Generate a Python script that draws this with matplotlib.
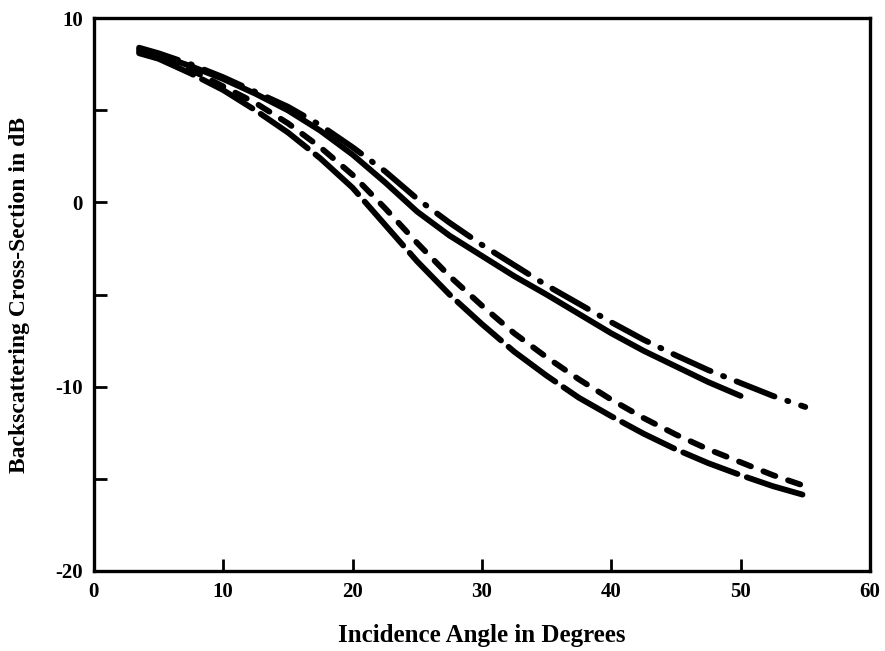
import matplotlib.pyplot as plt

plt.rcParams['font.family'] = 'Liberation Serif'
plt.rcParams['font.weight'] = 'bold'
plt.rcParams['axes.unicode_minus'] = False

# incidence angles (degrees)
angle = [3.5, 5, 7.5, 10, 12.5, 15, 17.5, 20, 22.5, 25, 27.5, 30,
         32.5, 35, 37.5, 40, 42.5, 45, 47.5, 50, 52.5, 55]

# backscattering cross-section (dB)
solid = [8.3, 8.0, 7.4, 6.7, 5.9, 5.0, 3.9, 2.6, 1.1, -0.5, -1.8, -2.9,
         -4.0, -5.0, -6.05, -7.1, -8.05, -8.9, -9.75, -10.5]
dash_dot = [8.4, 8.1, 7.5, 6.8, 6.0, 5.2, 4.2, 3.0, 1.7, 0.2, -1.1, -2.3,
            -3.4, -4.5, -5.5, -6.5, -7.45, -8.3, -9.1, -9.8, -10.5, -11.1]
dashed = [8.2, 7.9, 7.2, 6.3, 5.4, 4.3, 3.0, 1.5, -0.3, -2.2, -4.0, -5.6,
          -7.1, -8.4, -9.6, -10.7, -11.7, -12.6, -13.4, -14.1, -14.8, -15.4]
long_dash = [8.1, 7.8, 7.0, 6.1, 5.0, 3.8, 2.4, 0.8, -1.2, -3.2, -5.0, -6.6,
             -8.1, -9.4, -10.6, -11.6, -12.55, -13.4, -14.15, -14.8, -15.4, -15.9]

fig = plt.figure(figsize=(8.85, 6.51), dpi=100)
ax = fig.add_axes([0.106, 0.123, 0.877, 0.849])

lw = 4.2
ax.plot(angle[:len(solid)], solid, color='black', lw=lw, solid_capstyle='round')
ax.plot(angle, dash_dot, color='black', lw=lw, dashes=(7, 2.3, 0.2, 2.3), dash_capstyle='round')
ax.plot(angle, dashed, color='black', lw=lw, dashes=(2.2, 2.3), dash_capstyle='round')
ax.plot(angle, long_dash, color='black', lw=lw, dashes=(10, 1.7), dash_capstyle='round')

ax.set_xlim(0, 60)
ax.set_ylim(-20, 10)
ax.set_xticks(range(0, 61, 10))
ax.set_yticks([-20, -15, -10, -5, 0, 5, 10])
ax.set_yticklabels(['-20', '', '-10', '', '0', '', '10'])

ax.tick_params(direction='in', length=9, width=2, labelsize=15)
ax.tick_params(axis='x', pad=8)
ax.tick_params(axis='y', pad=8)
for s in ax.spines.values():
    s.set_linewidth(2.4)

ax.set_xlabel('Incidence Angle in Degrees', fontsize=18, fontweight='bold', labelpad=16)
ax.set_ylabel('Backscattering Cross-Section in dB', fontsize=17, fontweight='bold', labelpad=18)

fig.savefig('out.png', dpi=100)
